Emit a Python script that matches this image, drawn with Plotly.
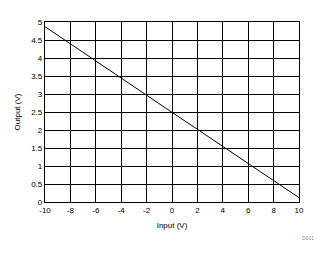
import plotly.graph_objects as go

input_v = [-10, -8, -6, -4, -2, 0, 2, 4, 6, 8, 10]
output_v = [4.87, 4.39, 3.92, 3.44, 2.97, 2.49, 2.02, 1.54, 1.07, 0.59, 0.12]
x_ticks = [-10, -8, -6, -4, -2, 0, 2, 4, 6, 8, 10]
y_ticks = [0, 0.5, 1, 1.5, 2, 2.5, 3, 3.5, 4, 4.5, 5]

fig = go.Figure()
fig.add_trace(go.Scatter(x=input_v, y=output_v, mode="lines",
                         line=dict(color="black", width=1), showlegend=False))

axis_common = dict(showgrid=True, gridcolor="black", gridwidth=1.3,
                   showline=True, linecolor="black", linewidth=1.3, mirror=True,
                   zeroline=False, ticks="", tickfont=dict(family="Liberation Sans, Arial", size=8, color="black"))

fig.update_xaxes(range=[-10, 10], tickvals=x_ticks, ticktext=[str(v) for v in x_ticks],
                 title=dict(text="Input (V)", font=dict(family="Liberation Sans, Arial", size=8, color="black"), standoff=8),
                 **axis_common)
fig.update_yaxes(range=[0, 5], tickvals=y_ticks, ticktext=[f"{v:g}" for v in y_ticks],
                 title=dict(text="Output (V)", font=dict(family="Liberation Sans, Arial", size=8, color="black"), standoff=9),
                 **axis_common)

fig.add_annotation(text="D001", x=1.0, y=0, xref="paper", yref="paper", xanchor="left", yanchor="top",
                   xshift=1, yshift=-31, showarrow=False,
                   font=dict(family="Liberation Sans, Arial", size=5, color="#888888"))

fig.update_layout(width=328, height=254, margin=dict(l=45, r=29, t=22, b=52),
                  paper_bgcolor="white", plot_bgcolor="white")

fig.write_html("out.html")
